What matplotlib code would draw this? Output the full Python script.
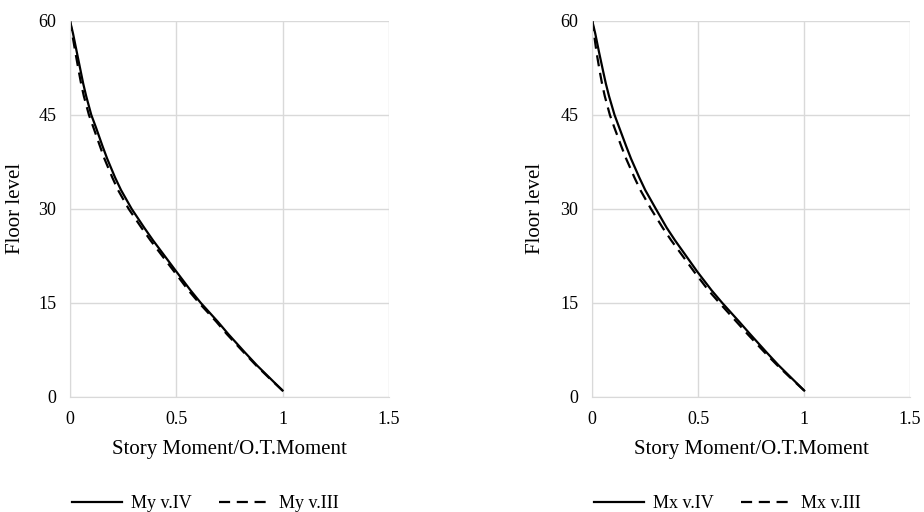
import matplotlib.pyplot as plt

plt.rcParams['font.family'] = ['Liberation Serif', 'DejaVu Serif']

# floor levels and moment ratios
floors = [1, 3, 5, 7, 10, 12, 15, 17, 20, 22, 25, 27, 30, 33, 35, 38, 40, 43, 45,
          48, 50, 52, 55, 57, 58, 59, 60]
my_iv  = [1.0, 0.94, 0.88, 0.825, 0.745, 0.695, 0.615, 0.567, 0.50, 0.456, 0.39, 0.349,
          0.29, 0.24, 0.212, 0.175, 0.153, 0.122, 0.10, 0.076, 0.062, 0.05, 0.032,
          0.02, 0.014, 0.007, 0.0]
my_iii = [1.0, 0.937, 0.876, 0.82, 0.738, 0.688, 0.607, 0.557, 0.49, 0.445, 0.378, 0.336,
          0.276, 0.226, 0.199, 0.162, 0.141, 0.11, 0.089, 0.065, 0.052, 0.041, 0.025,
          0.015, 0.01, 0.005, 0.0]
mx_iv  = [1.0, 0.94, 0.88, 0.825, 0.745, 0.693, 0.613, 0.563, 0.495, 0.453, 0.39, 0.351,
          0.30, 0.25, 0.222, 0.183, 0.16, 0.127, 0.105, 0.079, 0.064, 0.051, 0.032,
          0.02, 0.014, 0.007, 0.0]
mx_iii = [1.0, 0.936, 0.874, 0.816, 0.733, 0.68, 0.60, 0.548, 0.48, 0.437, 0.372, 0.332,
          0.277, 0.227, 0.199, 0.16, 0.137, 0.104, 0.083, 0.059, 0.046, 0.035, 0.02,
          0.012, 0.008, 0.004, 0.0]

xticks = [0, 0.5, 1, 1.5]
yticks = [0, 15, 30, 45, 60]

fig = plt.figure(figsize=(9.24, 5.12), dpi=100)
ax1 = fig.add_axes([0.0758, 0.225, 0.345, 0.734])
ax2 = fig.add_axes([0.641, 0.225, 0.344, 0.734])

panels = [(ax1, my_iv, my_iii, 'My v.IV', 'My v.III', 0.222, -0.141),
          (ax2, mx_iv, mx_iii, 'Mx v.IV', 'Mx v.III', 0.787, -0.148)]

for ax, a, b, la, lb, cx, ylx in panels:
    l1, = ax.plot(a, floors, color='black', lw=1.6)
    l2, = ax.plot(b, floors, color='black', lw=1.6, ls=(0, (5, 3)))
    ax.set_xlim(0, 1.5)
    ax.set_ylim(0, 60)
    ax.set_xticks(xticks)
    ax.set_xticklabels(['0', '0.5', '1', '1.5'])
    ax.set_yticks(yticks)
    ax.grid(True, color='#d9d9d9', lw=1)
    ax.set_axisbelow(True)
    for s in ax.spines.values():
        s.set_visible(False)
    ax.spines['bottom'].set_visible(True)
    ax.spines['bottom'].set_color('#d9d9d9')
    ax.spines['left'].set_visible(True)
    ax.spines['left'].set_color('#d9d9d9')
    ax.tick_params(length=0, labelsize=13, pad=10)
    ax.set_xlabel('Story Moment/O.T.Moment', fontsize=15, labelpad=9)
    ax.set_ylabel('Floor level', fontsize=15)
    ax.yaxis.set_label_coords(ylx, 0.5)
    fig.legend([l1, l2], [la, lb], loc='center', bbox_to_anchor=(cx, 0.016),
               ncol=2, frameon=False, fontsize=13, handlelength=2.8,
               columnspacing=1.5, handletextpad=0.5)

fig.savefig('out.png', dpi=100)
